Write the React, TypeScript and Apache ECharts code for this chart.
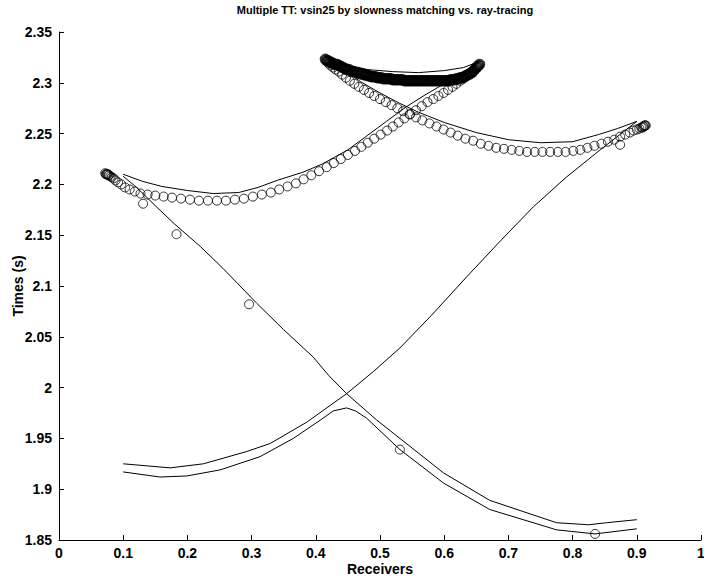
import React, { useEffect, useRef } from "react";
import * as echarts from "echarts";

const TITLE = "Multiple TT: vsin25 by slowness matching vs. ray-tracing";
const X_NAME = "Receivers";
const Y_NAME = "Times (s)";

// Ray-tracing curves (solid lines)
// upper swallowtail: first branch -> cusp top -> second branch
const rayUpper: [number, number][] = [
  [0.1, 2.21], [0.13, 2.203], [0.16, 2.198], [0.2, 2.194], [0.24, 2.191], [0.28, 2.192],
  [0.31, 2.197], [0.34, 2.204], [0.38, 2.212], [0.41, 2.22], [0.45, 2.234], [0.48, 2.248],
  [0.51, 2.262], [0.54, 2.276], [0.57, 2.288], [0.6, 2.299], [0.63, 2.31], [0.655, 2.321],
  [0.63, 2.315], [0.6, 2.312], [0.56, 2.31], [0.52, 2.311], [0.48, 2.313], [0.45, 2.317],
  [0.43, 2.321], [0.414, 2.326],
  [0.43, 2.319], [0.45, 2.31], [0.47, 2.301], [0.5, 2.29], [0.53, 2.28], [0.56, 2.271],
  [0.6, 2.261], [0.65, 2.251], [0.7, 2.244], [0.75, 2.241], [0.8, 2.242], [0.84, 2.249],
  [0.87, 2.255], [0.9, 2.262],
];
const rayDescending: [number, number][] = [
  [0.1, 2.208], [0.121, 2.197], [0.15, 2.179], [0.18, 2.161], [0.22, 2.139], [0.256, 2.117],
  [0.308, 2.083], [0.35, 2.057], [0.396, 2.03], [0.42, 2.012], [0.448, 1.994], [0.495, 1.968],
  [0.531, 1.95], [0.599, 1.916], [0.671, 1.889], [0.775, 1.867], [0.825, 1.865], [0.853, 1.867],
  [0.9, 1.87],
];
const rayPeaked: [number, number][] = [
  [0.1, 1.917], [0.157, 1.912], [0.199, 1.913], [0.251, 1.919], [0.313, 1.932], [0.365, 1.95],
  [0.407, 1.968], [0.427, 1.977], [0.448, 1.98], [0.462, 1.977], [0.479, 1.97], [0.531, 1.939],
  [0.599, 1.906], [0.671, 1.88], [0.775, 1.86], [0.835, 1.856], [0.9, 1.861],
];
const rayRising: [number, number][] = [
  [0.1, 1.925], [0.173, 1.921], [0.225, 1.925], [0.292, 1.937], [0.329, 1.945], [0.386, 1.966],
  [0.448, 1.994], [0.49, 2.016], [0.531, 2.039], [0.58, 2.071], [0.635, 2.109], [0.69, 2.146],
  [0.739, 2.178], [0.79, 2.207], [0.843, 2.234], [0.9, 2.262],
];

// Slowness-matching picks (hollow circles)
const smBranchA: [number, number][] = [
  [0.072, 2.211], [0.073, 2.21], [0.074, 2.21], [0.075, 2.21], [0.076, 2.21], [0.077, 2.209],
  [0.078, 2.209], [0.08, 2.208], [0.082, 2.207],
  [0.085, 2.206], [0.088, 2.204], [0.092, 2.202], [0.097, 2.2], [0.103, 2.197], [0.11, 2.195],
  [0.118, 2.193], [0.127, 2.191], [0.138, 2.19], [0.15, 2.189], [0.163, 2.188], [0.176, 2.187],
  [0.19, 2.186], [0.204, 2.185], [0.218, 2.184], [0.232, 2.184], [0.246, 2.184], [0.26, 2.184],
  [0.274, 2.185], [0.288, 2.186], [0.302, 2.188], [0.316, 2.19], [0.33, 2.192], [0.343, 2.195],
  [0.356, 2.198], [0.369, 2.201], [0.381, 2.205], [0.393, 2.209], [0.405, 2.213], [0.417, 2.217],
  [0.428, 2.221], [0.439, 2.225], [0.45, 2.229], [0.461, 2.233], [0.471, 2.237], [0.481, 2.241],
  [0.491, 2.245], [0.501, 2.249], [0.511, 2.253], [0.52, 2.257], [0.529, 2.261], [0.538, 2.265],
  [0.547, 2.269], [0.556, 2.273], [0.565, 2.277], [0.574, 2.281], [0.583, 2.284], [0.591, 2.287],
  [0.599, 2.29], [0.606, 2.293], [0.613, 2.296], [0.619, 2.299], [0.625, 2.302], [0.63, 2.304],
  [0.635, 2.307], [0.64, 2.309], [0.644, 2.311], [0.648, 2.313], [0.651, 2.315], [0.654, 2.317],
];
const smBand: [number, number][] = [
  [0.655, 2.318], [0.652, 2.316], [0.649, 2.314], [0.646, 2.312], [0.643, 2.31], [0.64, 2.309],
  [0.637, 2.308], [0.634, 2.307], [0.631, 2.306], [0.628, 2.305], [0.625, 2.305], [0.622, 2.304],
  [0.619, 2.304], [0.616, 2.303], [0.613, 2.303], [0.61, 2.303], [0.607, 2.302], [0.604, 2.302],
  [0.601, 2.302], [0.598, 2.302], [0.595, 2.302], [0.592, 2.302], [0.589, 2.302], [0.586, 2.302],
  [0.583, 2.302], [0.58, 2.302], [0.577, 2.302], [0.574, 2.302], [0.571, 2.302], [0.568, 2.302],
  [0.565, 2.302], [0.562, 2.302], [0.559, 2.302], [0.556, 2.302], [0.553, 2.302], [0.55, 2.302],
  [0.547, 2.302], [0.544, 2.302], [0.541, 2.302], [0.538, 2.302], [0.535, 2.303], [0.532, 2.303],
  [0.529, 2.303], [0.526, 2.303], [0.523, 2.303], [0.52, 2.303], [0.517, 2.304], [0.514, 2.304],
  [0.511, 2.304], [0.508, 2.304], [0.505, 2.304], [0.502, 2.305], [0.499, 2.305], [0.496, 2.305],
  [0.493, 2.306], [0.49, 2.306], [0.487, 2.306], [0.484, 2.307], [0.481, 2.307], [0.478, 2.308],
  [0.475, 2.308], [0.472, 2.309], [0.469, 2.309], [0.466, 2.31], [0.463, 2.31], [0.46, 2.311],
  [0.457, 2.311], [0.454, 2.312], [0.451, 2.313], [0.448, 2.313], [0.445, 2.314], [0.442, 2.315],
  [0.439, 2.316], [0.436, 2.317], [0.433, 2.318], [0.43, 2.318], [0.427, 2.319], [0.424, 2.32],
  [0.421, 2.321], [0.418, 2.322], [0.415, 2.323],
];
const smBranchB: [number, number][] = [
  [0.417, 2.321], [0.42, 2.319], [0.423, 2.317], [0.427, 2.315], [0.431, 2.313], [0.436, 2.311],
  [0.441, 2.308], [0.447, 2.305], [0.453, 2.302], [0.46, 2.299], [0.467, 2.296], [0.475, 2.293],
  [0.483, 2.29], [0.491, 2.287], [0.5, 2.284], [0.509, 2.281], [0.518, 2.278], [0.527, 2.275],
  [0.536, 2.272], [0.546, 2.269], [0.556, 2.266], [0.566, 2.263], [0.577, 2.26], [0.588, 2.257],
  [0.599, 2.254], [0.61, 2.251], [0.621, 2.248], [0.633, 2.245], [0.645, 2.243], [0.657, 2.24],
  [0.669, 2.238], [0.681, 2.236], [0.693, 2.235], [0.705, 2.234], [0.717, 2.233], [0.729, 2.232],
  [0.741, 2.232], [0.753, 2.232], [0.765, 2.232], [0.777, 2.232], [0.789, 2.232], [0.801, 2.233],
  [0.812, 2.234], [0.823, 2.236], [0.834, 2.238], [0.845, 2.24], [0.855, 2.242], [0.865, 2.244],
  [0.874, 2.247], [0.882, 2.249], [0.889, 2.251], [0.895, 2.253], [0.9, 2.254], [0.904, 2.255],
  [0.907, 2.256], [0.909, 2.256], [0.91, 2.257], [0.911, 2.257], [0.912, 2.258], [0.913, 2.258],
  [0.914, 2.258],
];
const smSparse: [number, number][] = [
  [0.131, 2.181], [0.183, 2.151], [0.296, 2.082], [0.531, 1.939], [0.835, 1.856], [0.874, 2.239],
];

const FONT = "'Liberation Sans', Arial, Helvetica, sans-serif";

export default function App() {
  const ref = useRef<HTMLDivElement>(null);
  useEffect(() => {
    if (!ref.current) return;
    const chart = echarts.init(ref.current, null, { renderer: "svg" });
    const lineSeries = (data: [number, number][]) => ({
      type: "line" as const,
      data,
      showSymbol: false,
      symbol: "none",
      lineStyle: { color: "#000", width: 1 },
      silent: true,
      z: 2,
    });
    const circleSeries = (data: [number, number][], bw: number) => ({
      type: "scatter" as const,
      data,
      symbol: "circle",
      symbolSize: 9,
      itemStyle: { color: "rgba(0,0,0,0)", borderColor: "#000", borderWidth: bw },
      silent: true,
      z: 3,
    });
    const labelStyle = { fontFamily: FONT, fontWeight: "bold", fontSize: 14, color: "#000" };
    chart.setOption({
      animation: false,
      backgroundColor: "#fff",
      textStyle: { fontFamily: FONT },
      title: {
        text: TITLE,
        left: 380,
        top: 0,
        padding: [4, 5, 4, 5],
        textAlign: "center",
        textStyle: { fontFamily: FONT, fontWeight: "bold", fontSize: 11, color: "#000" },
      },
      grid: {
        left: 59,
        right: 3,
        top: 32,
        bottom: 37,
        containLabel: false,
        outerBoundsMode: "none",
      },
      xAxis: {
        type: "value",
        min: 0,
        max: 1,
        interval: 0.1,
        name: X_NAME,
        nameLocation: "middle",
        nameGap: 22,
        nameMoveOverlap: false,
        nameTextStyle: labelStyle,
        axisLine: { show: true, onZero: false, lineStyle: { color: "#000", width: 1 } },
        axisTick: { show: true, inside: true, length: 5, lineStyle: { color: "#000" } },
        axisLabel: { ...labelStyle, margin: 6 },
        splitLine: { show: false },
      },
      yAxis: {
        type: "value",
        min: 1.85,
        max: 2.35,
        interval: 0.05,
        name: Y_NAME,
        nameLocation: "middle",
        nameGap: 34,
        nameMoveOverlap: false,
        nameTextStyle: labelStyle,
        axisLine: { show: true, onZero: false, lineStyle: { color: "#000", width: 1 } },
        axisTick: { show: true, inside: true, length: 5, lineStyle: { color: "#000" } },
        axisLabel: { ...labelStyle, margin: 7 },
        splitLine: { show: false },
      },
      series: [
        lineSeries(rayUpper),
        lineSeries(rayDescending),
        lineSeries(rayPeaked),
        lineSeries(rayRising),
        circleSeries(smBranchA, 1),
        circleSeries(smBand, 2.5),
        circleSeries(smBranchB, 1),
        circleSeries(smSparse, 1),
      ],
    });
    return () => chart.dispose();
  }, []);
  return <div ref={ref} style={{ width: 704, height: 577, position: "absolute", left: 0, top: 0 }} />;
}
